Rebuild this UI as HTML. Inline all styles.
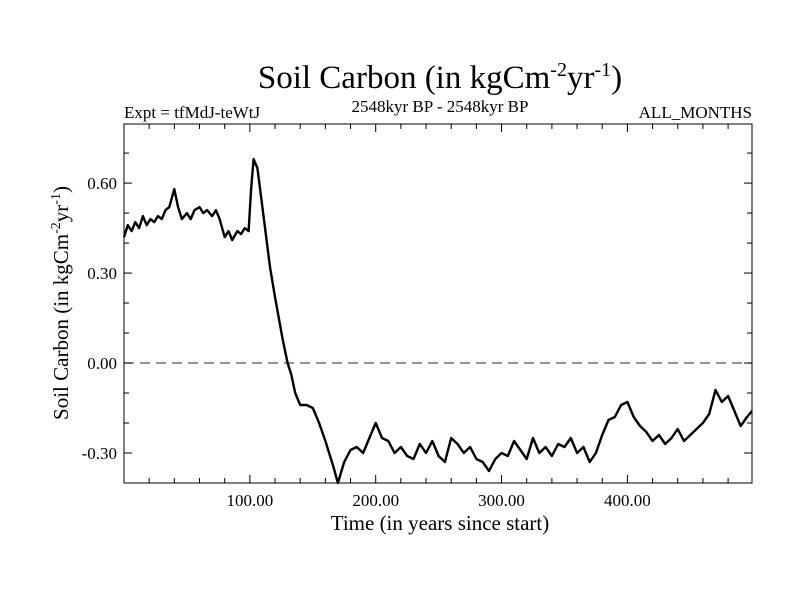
<!DOCTYPE html>
<html><head><meta charset="utf-8"><style>
body{margin:0;background:#fff;}
svg text{font-family:"Liberation Serif",serif;fill:#000;}
</style></head><body>
<svg width="800" height="600">
<text x="440" y="88" font-size="33" text-anchor="middle">Soil Carbon (in kgCm<tspan dy="-12" font-size="20">-2</tspan><tspan dy="12">yr</tspan><tspan dy="-12" font-size="20">-1</tspan><tspan dy="12">)</tspan></text>
<text x="124" y="118" font-size="17">Expt = tfMdJ-teWtJ</text>
<text x="440" y="112" font-size="17" text-anchor="middle">2548kyr BP - 2548kyr BP</text>
<text x="752" y="118" font-size="17" text-anchor="end">ALL_MONTHS</text>
<g id="axes"></g>
<text x="440" y="530" font-size="21" text-anchor="middle">Time (in years since start)</text>
<text transform="translate(68,303) rotate(-90)" font-size="21" text-anchor="middle">Soil Carbon (in kgCm<tspan dy="-8" font-size="14">-2</tspan><tspan dy="8">yr</tspan><tspan dy="-8" font-size="14">-1</tspan><tspan dy="8">)</tspan></text>
</svg>
<script>
const years=[0,3,6,9,12,15,18,21,24,27,30,33,36,40,43,46,50,53,56,60,63,66,70,73,76,80,83,86,90,93,96,99,101,103,106,110,113,116,120,123,126,130,133,136,140,145,150,155,160,163,166,170,175,180,185,190,195,200,205,210,215,220,225,230,235,240,245,250,255,260,265,270,275,280,285,290,295,300,305,310,315,320,325,330,335,340,345,350,355,360,365,370,375,380,385,390,395,400,405,410,415,420,425,430,435,440,445,450,455,460,465,470,475,480,485,490,495,499];
const values=[0.42,0.46,0.44,0.47,0.45,0.49,0.46,0.48,0.47,0.49,0.48,0.51,0.52,0.58,0.52,0.48,0.50,0.48,0.51,0.52,0.50,0.51,0.49,0.51,0.48,0.42,0.44,0.41,0.44,0.43,0.45,0.44,0.58,0.68,0.65,0.52,0.42,0.32,0.22,0.15,0.08,0.00,-0.04,-0.10,-0.14,-0.14,-0.15,-0.20,-0.26,-0.30,-0.34,-0.40,-0.33,-0.29,-0.28,-0.30,-0.25,-0.20,-0.25,-0.26,-0.30,-0.28,-0.31,-0.32,-0.27,-0.30,-0.26,-0.31,-0.33,-0.25,-0.27,-0.30,-0.28,-0.32,-0.33,-0.36,-0.32,-0.30,-0.31,-0.26,-0.29,-0.32,-0.25,-0.30,-0.28,-0.31,-0.27,-0.28,-0.25,-0.30,-0.28,-0.33,-0.30,-0.24,-0.19,-0.18,-0.14,-0.13,-0.18,-0.21,-0.23,-0.26,-0.24,-0.27,-0.25,-0.22,-0.26,-0.24,-0.22,-0.20,-0.17,-0.09,-0.13,-0.11,-0.16,-0.21,-0.18,-0.16];
const xTicks=[100,200,300,400];
const xTickLabels=["100.00","200.00","300.00","400.00"];
const yTicks=[-0.3,0,0.3,0.6];
const yTickLabels=["-0.30","0.00","0.30","0.60"];
const L=124,R=752,T=124,B=483,X0=0,X1=499,Y0=-0.4,Y1=0.797;
const sx=v=>L+(v-X0)/(X1-X0)*(R-L);
const sy=v=>B-(v-Y0)/(Y1-Y0)*(B-T);
const NS='http://www.w3.org/2000/svg';
const g=document.getElementById('axes');
function mk(t,a){const e=document.createElementNS(NS,t);for(const k in a)e.setAttribute(k,a[k]);g.appendChild(e);return e;}
const frame=mk('rect',{x:L,y:T,width:R-L,height:B-T,fill:'none',stroke:'#000','stroke-width':1});


const zl=mk('line',{x1:L,x2:R,y1:sy(0),y2:sy(0),stroke:'#555','stroke-width':1.2,'stroke-dasharray':'10,6'});


for(let v=20;v<X1;v+=20){const major=v%100===0;const h=major?8:5;
mk('line',{x1:sx(v),x2:sx(v),y1:B,y2:B-h,stroke:'#000'});mk('line',{x1:sx(v),x2:sx(v),y1:T,y2:T+h,stroke:'#000'});}
for(let i=-3;i<=7;i++){const v=i/10;const major=i%3===0;const h=major?8:5;
mk('line',{x1:L,x2:L+h,y1:sy(v),y2:sy(v),stroke:'#000'});mk('line',{x1:R,x2:R-h,y1:sy(v),y2:sy(v),stroke:'#000'});}
xTicks.forEach((v,i)=>{const t=mk('text',{x:sx(v),y:B+23,'font-size':17,'text-anchor':'middle'});t.textContent=xTickLabels[i];

});
yTicks.forEach((v,i)=>{const t=mk('text',{x:L-7,y:sy(v)+6,'font-size':17,'text-anchor':'end'});t.textContent=yTickLabels[i];

});
const p=mk('path',{d:years.map((x,i)=>(i?'L':'M')+sx(x).toFixed(1)+','+sy(values[i]).toFixed(1)).join(''),fill:'none',stroke:'#000','stroke-width':2.4,'stroke-linejoin':'round'});


</script>
</body></html>
